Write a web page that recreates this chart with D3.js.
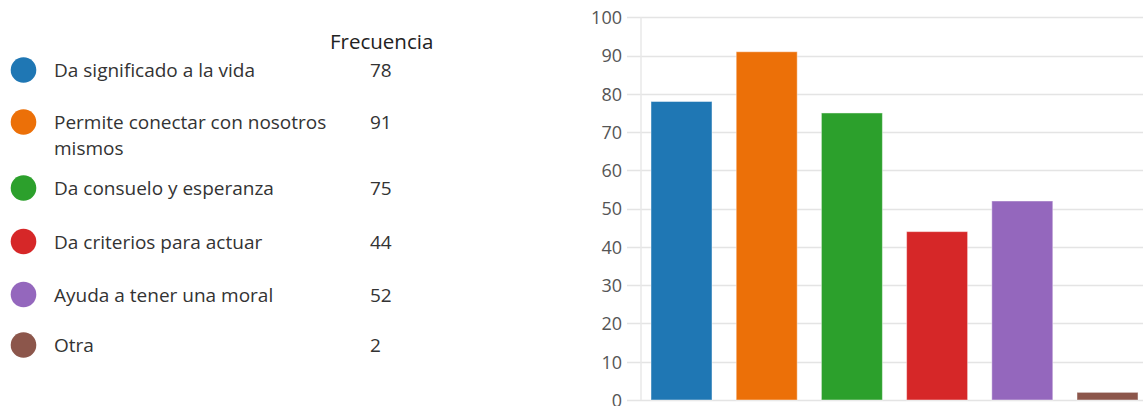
<!DOCTYPE html>
<html><head><meta charset="utf-8">
<script src="https://cdn.jsdelivr.net/npm/d3@7"></script>
<style>
html,body{margin:0;padding:0;background:#fff;}
svg{display:block;font-family:"Open Sans","Noto Sans",sans-serif;}
</style></head>
<body>
<svg id="chart" width="1143" height="406"></svg>
<script>
const categories = ["Da significado a la vida","Permite conectar con nosotros mismos","Da consuelo y esperanza","Da criterios para actuar","Ayuda a tener una moral","Otra"];
const legendLines = [["Da significado a la vida"],["Permite conectar con nosotros","mismos"],["Da consuelo y esperanza"],["Da criterios para actuar"],["Ayuda a tener una moral"],["Otra"]];
const values = [78, 91, 75, 44, 52, 2];
const colors = ["#1f77b4","#ec7008","#2ca02c","#d62728","#9467bd","#8c564b"];
const yTicks = [0,10,20,30,40,50,60,70,80,90,100];
const headerLabel = "Frecuencia";

const svg = d3.select("#chart");

// Legend table
const rowCenters = [70, 122, 188, 241.5, 294.5, 345];
svg.append("text").attr("x", 330).attr("y", 49).attr("fill", "#222")
  .style("font-size", "20.5px").text(headerLabel);
const rows = svg.selectAll("g.row").data(categories).join("g").attr("class","row")
  .attr("transform", (d,i) => `translate(0,${rowCenters[i]})`);
rows.append("circle").attr("cx", 23.5).attr("cy", 0).attr("r", 12.8)
  .attr("fill", (d,i) => colors[i]);
rows.each(function(d,i){
  const g = d3.select(this);
  const t = g.append("text").attr("x", 54).attr("y", 7).attr("fill", "#333").style("font-size","19px");
  legendLines[i].forEach((l,j) => t.append("tspan").attr("x", 54).attr("dy", j ? 26 : 0).text(l));
  g.append("text").attr("x", 370).attr("y", 7).attr("fill","#333").style("font-size","19px").text(values[i]);
});

// Bar chart
const y = d3.scaleLinear().domain([0,100]).range([400, 17.3]);
const x = d3.scaleBand().domain(categories).range([641, 1143]).paddingInner(0.284).paddingOuter(0.088).align(0.667);

const grid = svg.append("g");
grid.selectAll("line").data(yTicks).join("line")
  .attr("x1", 627).attr("x2", 1143)
  .attr("y1", d => Math.round(y(d)) + 0.5).attr("y2", d => Math.round(y(d)) + 0.5)
  .attr("stroke", "#e4e4e4").attr("stroke-width", 1.5);
grid.append("line").attr("x1", 641).attr("x2", 641).attr("y1", y(100)).attr("y2", y(0))
  .attr("stroke", "#e8e8e8").attr("stroke-width", 1.5);

const yAxis = d3.axisLeft(y).tickValues(yTicks).tickSize(0).tickPadding(0);
const ga = svg.append("g").attr("transform", "translate(622,0)").call(yAxis);
ga.select(".domain").remove();
ga.selectAll("text").attr("fill", "#555").style("font-size", "18px")
  .style("font-family", "'Open Sans','Noto Sans',sans-serif").attr("dy", "0.35em");

svg.append("g").selectAll("rect").data(categories).join("rect")
  .attr("x", d => x(d)).attr("width", x.bandwidth())
  .attr("y", (d,i) => y(values[i])).attr("height", (d,i) => y(0) - y(values[i]))
  .attr("fill", (d,i) => colors[i])
  .attr("stroke", "rgba(255,255,255,0.45)").attr("stroke-width", 1);
</script>
</body></html>
